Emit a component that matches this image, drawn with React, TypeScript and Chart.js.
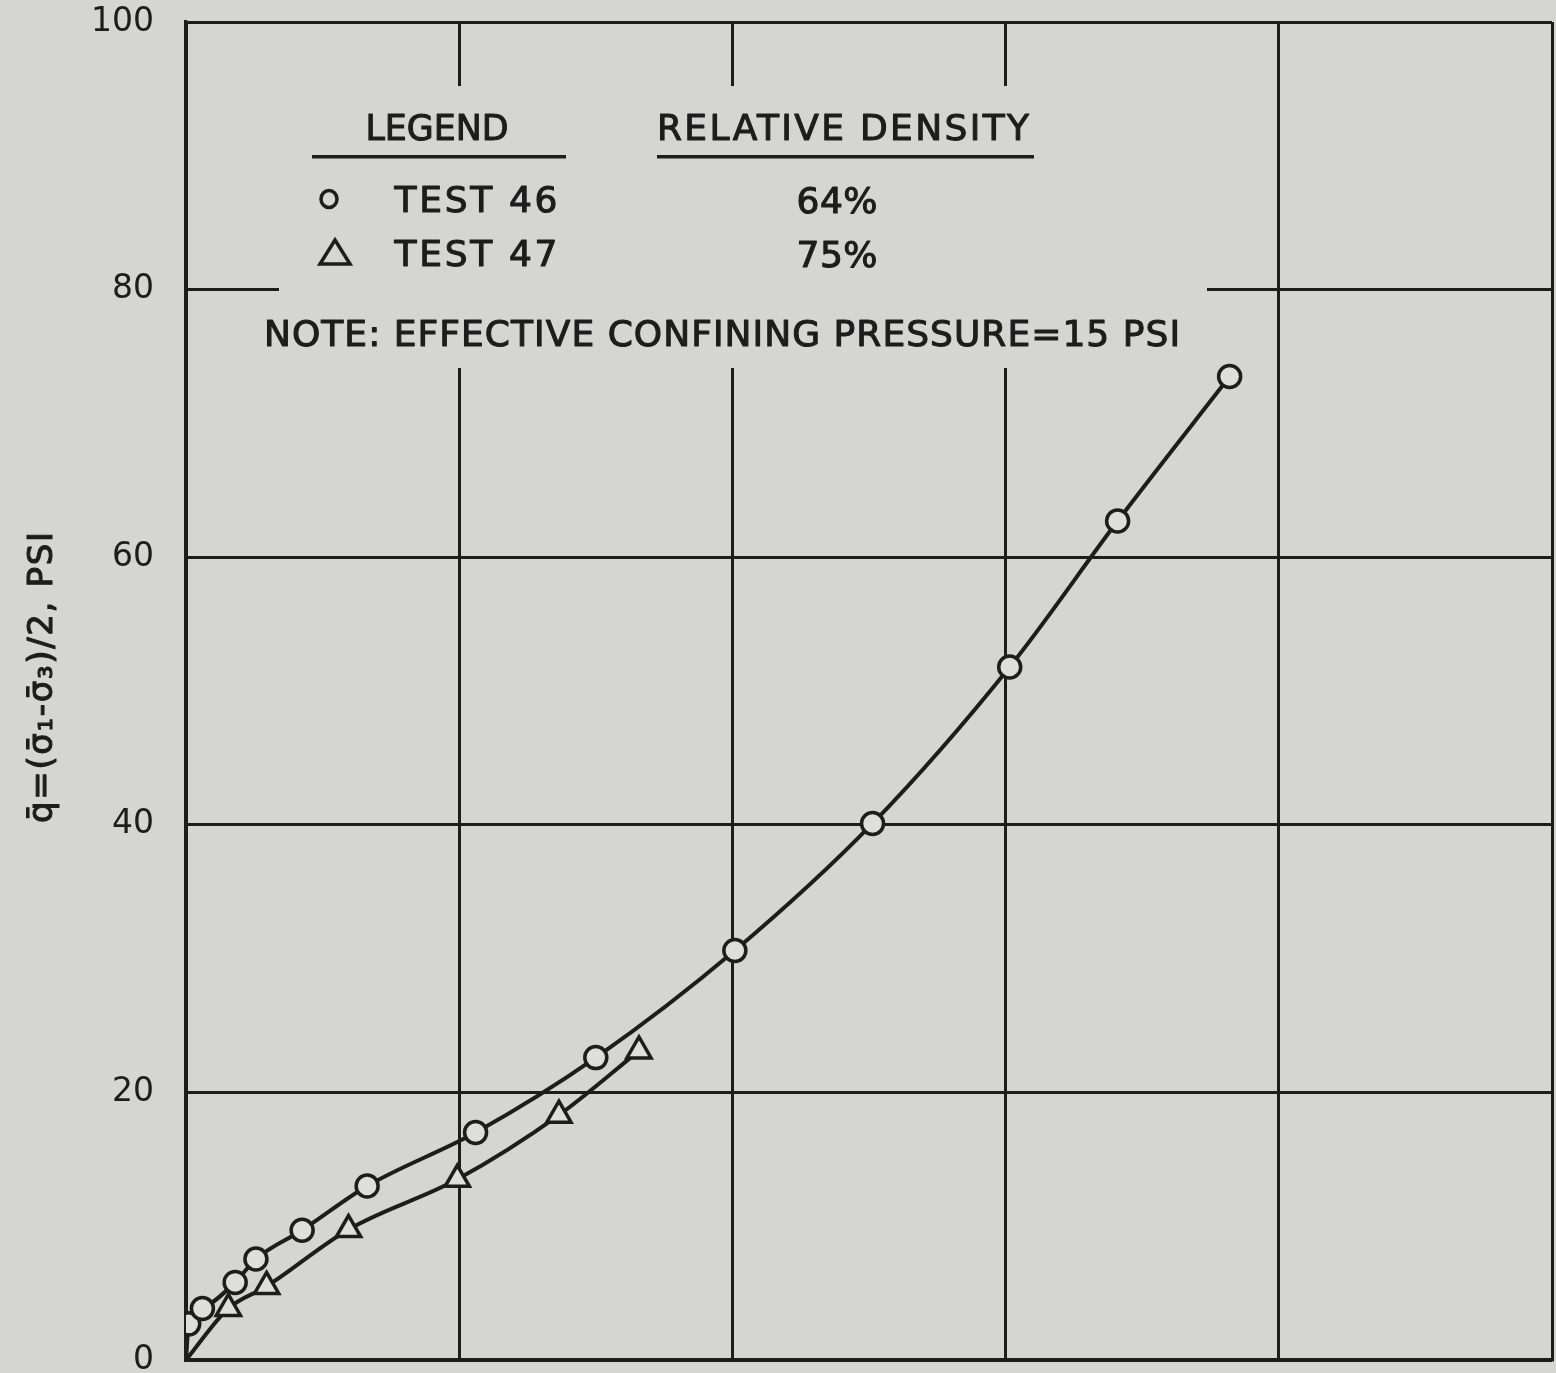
import React, { useEffect, useRef } from 'react';
import { Chart, registerables } from 'chart.js';

Chart.register(...registerables);

// ---- data (x in grid-column units; axis has no printed x labels) ----
const test46X = [0, 0.01, 0.06, 0.18, 0.256, 0.425, 0.663, 1.06, 1.5, 2.009, 2.513, 3.015, 3.41, 3.82];
const test46Y = [0, 2.7, 3.85, 5.8, 7.55, 9.7, 13.0, 17.0, 22.6, 30.6, 40.1, 51.8, 62.7, 73.5];
const test47X = [0, 0.155, 0.295, 0.595, 0.993, 1.365, 1.658];
const test47Y = [0, 3.85, 5.5, 9.75, 13.5, 18.3, 23.1];
const yTicks = [0, 20, 40, 60, 80, 100];
const xMin = 0;
const xMax = 5;
const seriesNames = ['TEST 46', 'TEST 47'];
const densities = ['64%', '75%'];
const legendHeader = 'LEGEND';
const densityHeader = 'RELATIVE DENSITY';
const noteText = 'NOTE: EFFECTIVE CONFINING PRESSURE=15 PSI';
const yTitle = 'q\u0304=(\u03c3\u0304\u2081-\u03c3\u0304\u2083)/2, PSI';

// ---- styling ----
const W = 1556;
const H = 1373;
const BG = '#d5d6d4';
const INK = '#1d1d1d';
const FILL = '#dedfdd';
const FONT = '"DejaVu Sans", "Liberation Sans", sans-serif';

function fitText(ctx: CanvasRenderingContext2D, text: string, cx: number, cy: number, width: number, size: number, rotate = false) {
  ctx.save();
  ctx.font = `${size}px ${FONT}`;
  (ctx as any).letterSpacing = '0px';
  const w = ctx.measureText(text).width;
  const n = Array.from(text).length;
  let ls = n > 1 ? (width - w) / (n - 1) : 0;
  let sx = 1;
  if (ls < 0) {
    sx = width / w;
    ls = 0;
  }
  (ctx as any).letterSpacing = `${ls}px`;
  ctx.fillStyle = INK;
  ctx.strokeStyle = INK;
  ctx.lineWidth = 1.1;
  ctx.lineJoin = 'round';
  ctx.textAlign = 'left';
  ctx.textBaseline = 'alphabetic';
  ctx.translate(cx, cy);
  if (rotate) ctx.rotate(-Math.PI / 2);
  ctx.scale(sx, 1);
  const x0 = -width / 2 / sx;
  const y0 = size * 0.365;
  ctx.fillText(text, x0, y0);
  ctx.strokeText(text, x0, y0);
  ctx.restore();
}

const paperPlugin = {
  id: 'paper',
  beforeDraw(chart: any) {
    const ctx = chart.ctx as CanvasRenderingContext2D;
    ctx.save();
    ctx.fillStyle = BG;
    ctx.fillRect(0, 0, chart.width, chart.height);
    ctx.restore();
  },
  beforeDatasetsDraw(chart: any) {
    const ctx = chart.ctx as CanvasRenderingContext2D;
    ctx.save();
    // blank panel behind the legend block (interrupts grid lines)
    ctx.fillStyle = BG;
    ctx.fillRect(279, 86, 928, 282);

    // headers + underlines
    fitText(ctx, legendHeader, 437, 127, 143, 36);
    fitText(ctx, densityHeader, 843, 127, 372, 36);
    ctx.fillStyle = INK;
    ctx.fillRect(312, 155, 254, 3.5);
    ctx.fillRect(657, 155, 377, 3.5);

    // legend rows
    ctx.strokeStyle = INK;
    ctx.lineWidth = 3.5;
    ctx.beginPath();
    ctx.ellipse(329, 199, 8, 8.5, 0, 0, Math.PI * 2);
    ctx.stroke();
    ctx.lineJoin = 'miter';
    ctx.beginPath();
    ctx.moveTo(335, 240);
    ctx.lineTo(350, 264);
    ctx.lineTo(320, 264);
    ctx.closePath();
    ctx.stroke();

    fitText(ctx, seriesNames[0], 476, 199, 163, 36);
    fitText(ctx, seriesNames[1], 476, 253, 163, 36);
    fitText(ctx, densities[0], 837, 200, 81, 36);
    fitText(ctx, densities[1], 837, 254, 81, 36);

    fitText(ctx, noteText, 722, 333, 916, 36);

    // y-axis title
    fitText(ctx, yTitle, 40, 675, 296, 34, true);
    ctx.restore();
  },
};

export default function App() {
  const ref = useRef<HTMLCanvasElement | null>(null);

  useEffect(() => {
    if (!ref.current) return;
    const chart = new Chart(ref.current, {
      type: 'scatter',
      data: {
        datasets: [
          {
            label: seriesNames[0],
            data: test46X.map((x, i) => ({ x, y: test46Y[i] })),
            showLine: true,
            borderColor: INK,
            borderWidth: 4,
            cubicInterpolationMode: 'monotone',
            pointStyle: 'circle',
            pointRadius: test46X.map((_, i) => (i === 0 ? 0 : 11)),
            pointBorderWidth: 3.5,
            pointBorderColor: INK,
            pointBackgroundColor: FILL,
          },
          {
            label: seriesNames[1],
            data: test47X.map((x, i) => ({ x, y: test47Y[i] })),
            showLine: true,
            borderColor: INK,
            borderWidth: 4,
            cubicInterpolationMode: 'monotone',
            pointStyle: 'triangle',
            pointRadius: test47X.map((_, i) => (i === 0 ? 0 : 14)),
            pointBorderWidth: 3.5,
            pointBorderColor: INK,
            pointBackgroundColor: FILL,
          },
        ],
      } as any,
      options: {
        responsive: false,
        animation: false,
        devicePixelRatio: 1,
        events: [],
        layout: { autoPadding: false, padding: { left: 0, top: 22, right: 4, bottom: 13 } },
        plugins: {
          legend: { display: false },
          tooltip: { enabled: false },
          title: { display: false },
        },
        scales: {
          x: {
            type: 'linear',
            min: xMin,
            max: xMax,
            ticks: { display: false, stepSize: 1 },
            grid: { color: INK, lineWidth: 3, drawTicks: false },
            border: { color: INK, width: 3.5 },
            afterFit: (s: any) => {
              s.height = 0;
              s.paddingLeft = 0;
              s.paddingRight = 0;
              s.paddingTop = 0;
              s.paddingBottom = 0;
            },
          },
          y: {
            type: 'linear',
            min: yTicks[0],
            max: yTicks[yTicks.length - 1],
            afterBuildTicks: (s: any) => {
              s.ticks = yTicks.map((v) => ({ value: v }));
            },
            ticks: {
              color: INK,
              padding: 32,
              font: { family: FONT, size: 33 },
            },
            grid: { color: INK, lineWidth: 3, drawTicks: false },
            border: { color: INK, width: 3.5 },
            afterFit: (s: any) => {
              s.width = 186;
              s.paddingLeft = 0;
              s.paddingRight = 0;
              s.paddingTop = 0;
              s.paddingBottom = 0;
            },
          },
        },
      } as any,
      plugins: [paperPlugin],
    });
    return () => chart.destroy();
  }, []);

  return (
    <div style={{ position: 'absolute', left: 0, top: 0, width: W, height: H, background: BG }}>
      <canvas ref={ref} width={W} height={H} style={{ display: 'block' }} />
    </div>
  );
}
